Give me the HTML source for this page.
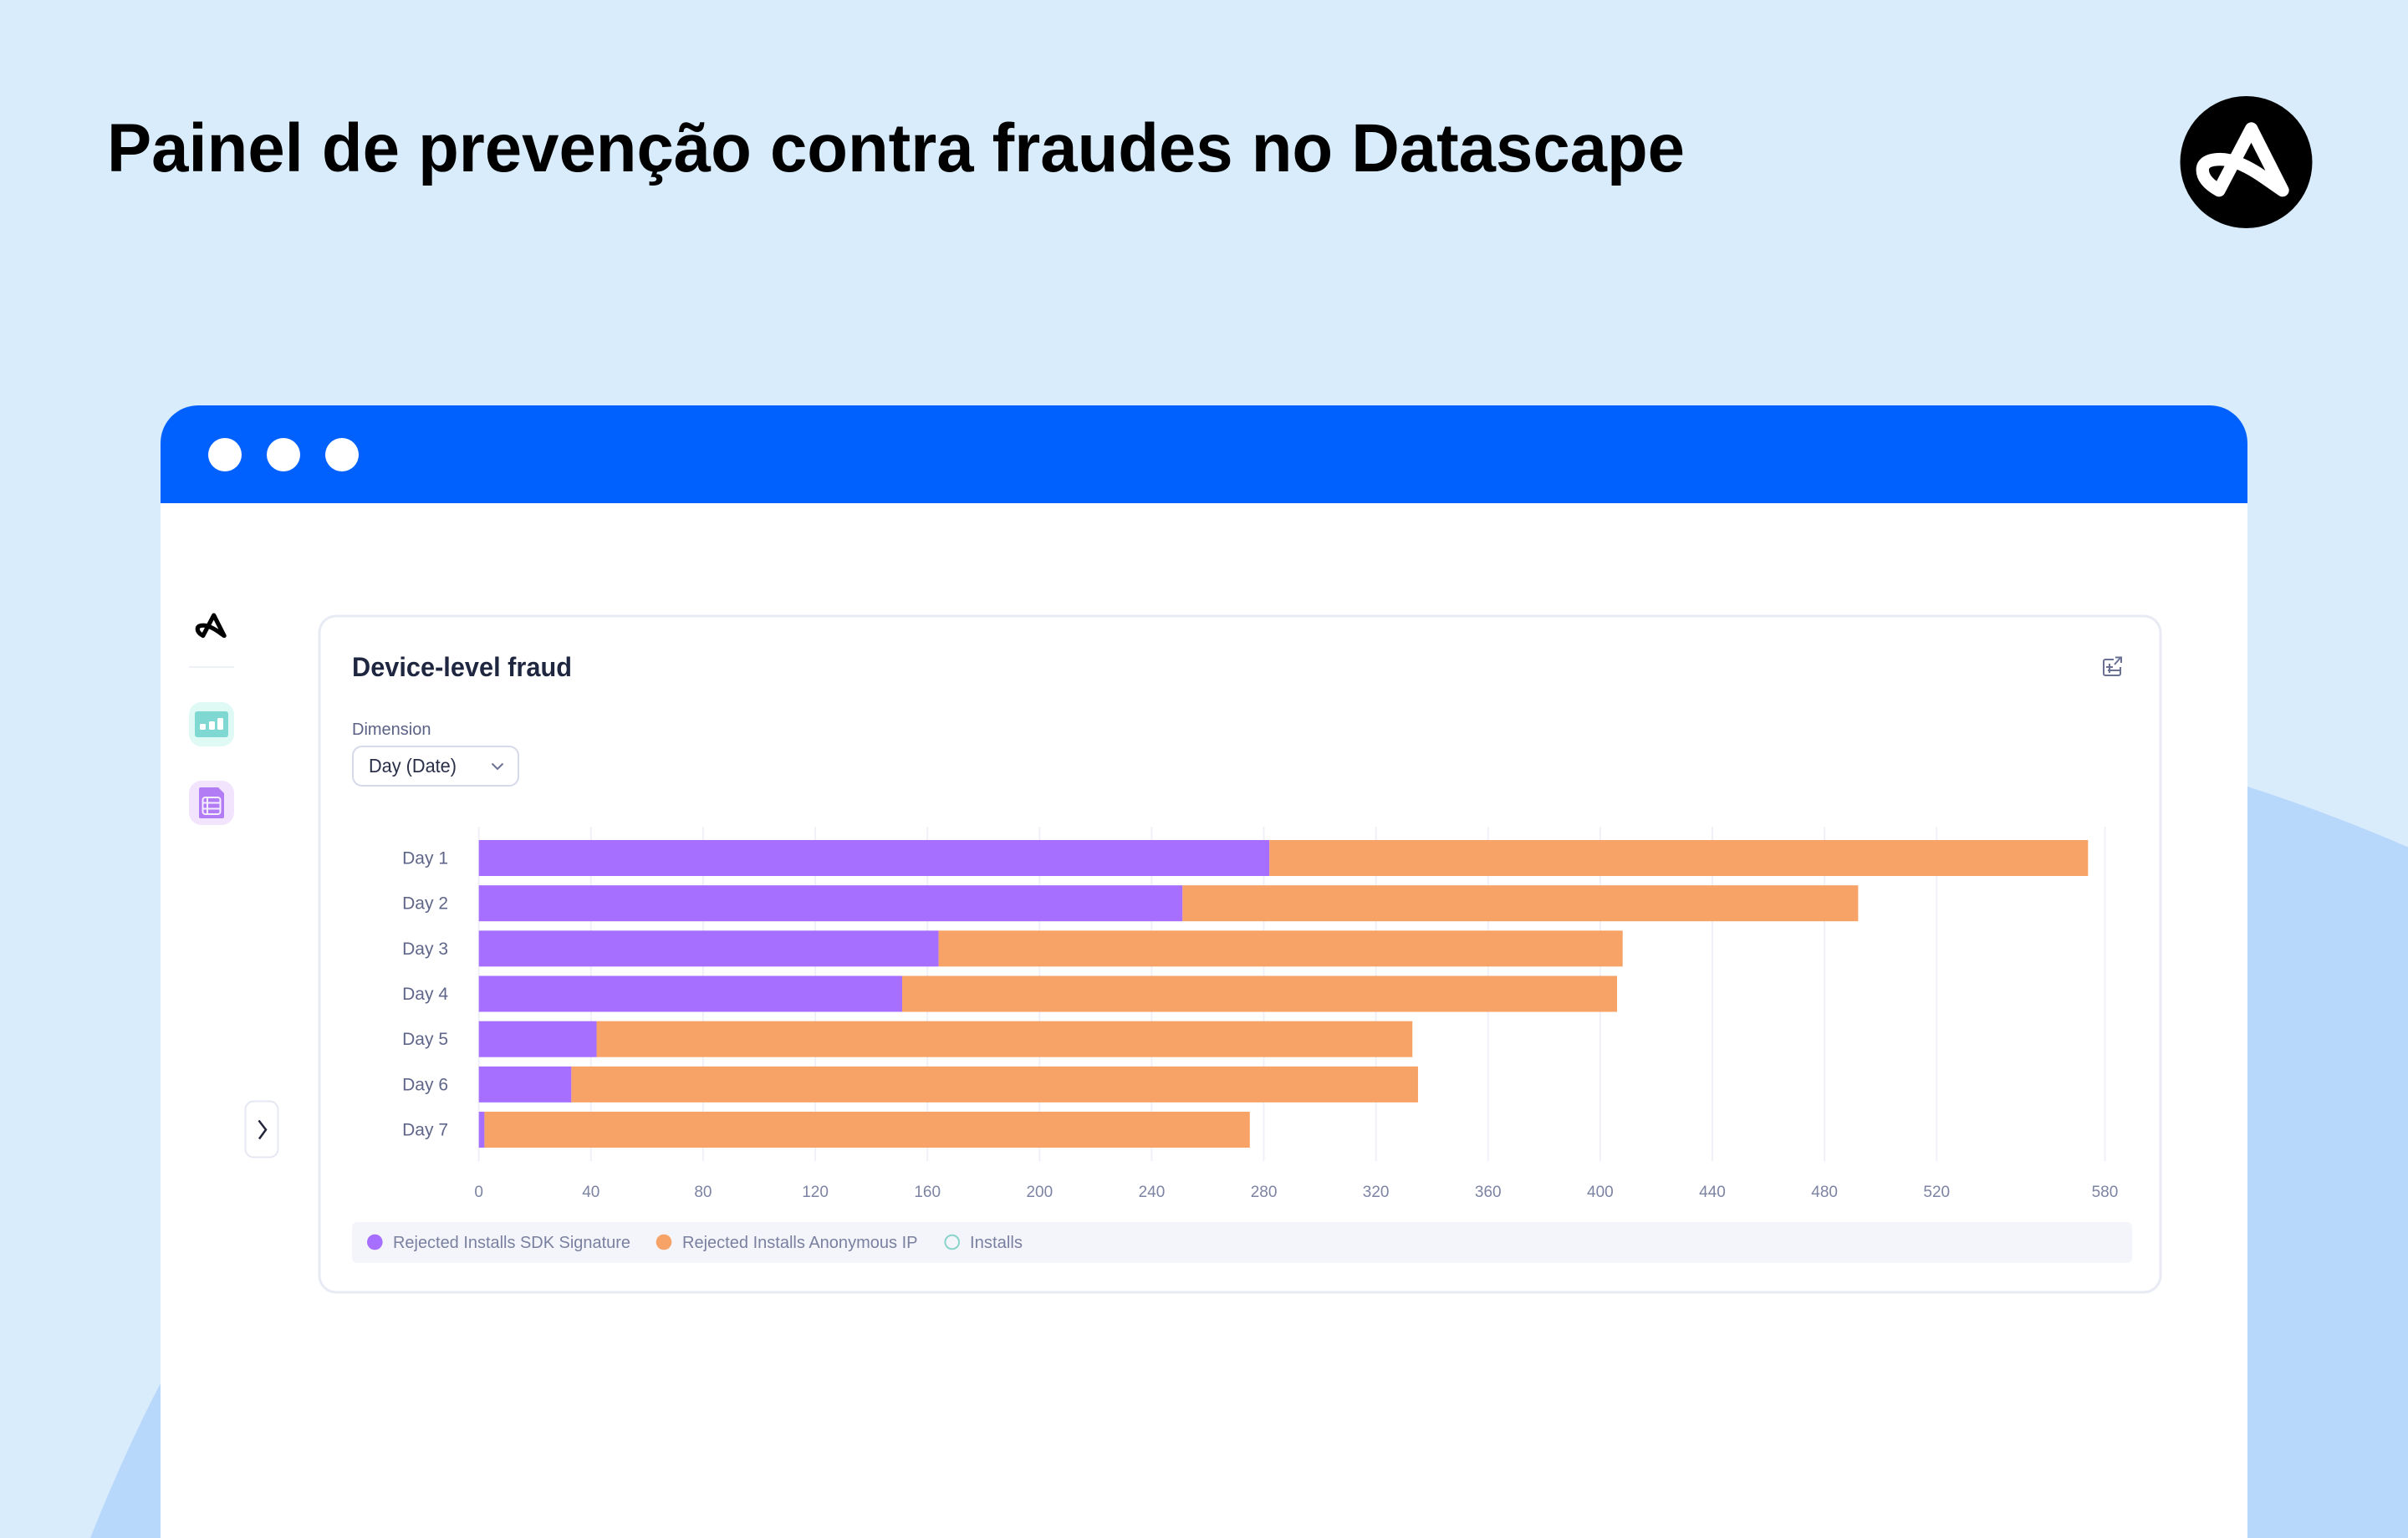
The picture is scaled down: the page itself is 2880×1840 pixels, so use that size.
<!DOCTYPE html>
<html lang="pt">
<head>
<meta charset="utf-8">
<title>Painel de prevenção contra fraudes no Datascape</title>
<style>
html,body{margin:0;padding:0;width:2880px;height:1840px;overflow:hidden;background:#d9ecfb}
svg{display:block}
text{font-family:"Liberation Sans",sans-serif}
</style>
</head>
<body>
<svg id="root" xmlns="http://www.w3.org/2000/svg" width="2880" height="1840" viewBox="0 0 2880 1840">
  <rect width="2880" height="1840" fill="#d9ecfb"/>
  <path d="M108 1840 Q150 1735 192 1655 L192 800 L2688 800 L2688 941 Q2784 972 2880 1013.5 L2880 1840 Z" fill="#b7d7fb"/>

  <text x="128" y="205" font-size="82" font-weight="700" fill="#000" textLength="1887" lengthAdjust="spacingAndGlyphs">Painel de prevenção contra fraudes no Datascape</text>

  <g>
    <circle cx="2686.5" cy="194" r="79" fill="#000"/>
    <g transform="translate(2500 60) scale(0.33333)">
      <path d="M690 503 L578 282 L462 503 C430 485 400 460 403 425 C408 385 480 385 530 405 C590 428 640 470 690 503 Z" fill="none" stroke="#fff" stroke-width="46" stroke-linejoin="round"/>
    </g>
  </g>

  <g>
    <path d="M192 1840 V530 a45 45 0 0 1 45 -45 H2643 a45 45 0 0 1 45 45 V1840 Z" fill="#fff"/>
    <path d="M192 602 V530 a45 45 0 0 1 45 -45 H2643 a45 45 0 0 1 45 45 V602 Z" fill="#0061fe"/>
    <circle cx="269" cy="544" r="20" fill="#fff"/>
    <circle cx="339" cy="544" r="20" fill="#fff"/>
    <circle cx="409" cy="544" r="20" fill="#fff"/>
  </g>

  <g>
    <g transform="translate(191.5 704.7) scale(0.1111)">
      <path d="M690 503 L578 282 L462 503 C430 485 400 460 403 425 C408 385 480 385 530 405 C590 428 640 470 690 503 Z" fill="none" stroke="#000" stroke-width="46" stroke-linejoin="round"/>
    </g>
    <rect x="226" y="797" width="54" height="2" fill="#eef0f7"/>
    <g>
      <rect x="226" y="840" width="54" height="53" rx="15" fill="#dffaf4"/>
      <rect x="233" y="851" width="40" height="31" rx="3" fill="#7fd8d1"/>
      <rect x="239" y="866" width="7" height="7" rx="1.5" fill="#fff"/>
      <rect x="250" y="863" width="7" height="10" rx="1.5" fill="#fff"/>
      <rect x="260" y="859" width="7" height="14" rx="1.5" fill="#fff"/>
    </g>
    <g>
      <rect x="226" y="934" width="54" height="53" rx="15" fill="#f1e4fc"/>
      <path d="M240 942 H261 L268 949 V977 a2 2 0 0 1 -2 2 H240 a2 2 0 0 1 -2 -2 V944 a2 2 0 0 1 2 -2 Z" fill="#b27cf5"/>
      <rect x="242.500" y="954" width="21" height="20" rx="3" fill="none" stroke="#f5ecfe" stroke-width="2"/>
      <path d="M243 960.500 H263 M243 967.500 H263 M248 954 V974" stroke="#f5ecfe" stroke-width="2" fill="none"/>
    </g>
    <g>
      <rect x="293.500" y="1317.500" width="39" height="67" rx="10" fill="#fff" stroke="#e5e7f2" stroke-width="2"/>
      <path d="M309.500 1340.500 L318 1351.500 L310 1362.500" fill="none" stroke="#23263a" stroke-width="2.500"/>
    </g>
  </g>

  <g>
    <rect x="382" y="737" width="2202" height="809" rx="20" fill="#fff" stroke="#e8eaf4" stroke-width="3"/>
    <text x="421" y="809" font-size="32" font-weight="700" fill="#1f2740" textLength="263" lengthAdjust="spacingAndGlyphs">Device-level fraud</text>
    <g fill="none" stroke="#6b7194" stroke-width="2">
      <path d="M2528 789 H2518 a2 2 0 0 0 -2 2 V806 a2 2 0 0 0 2 2 H2534 a2 2 0 0 0 2 -2 V798"/>
      <path d="M2523 794 V805 M2519 798 H2527 M2521 802 H2535"/>
      <path d="M2529 795 L2536 787 M2530 786.500 H2537 V793"/>
    </g>
    <text x="421" y="879" font-size="20" fill="#5b6285">Dimension</text>
    <g>
      <rect x="422" y="893" width="198" height="47" rx="11" fill="#fff" stroke="#d6d9ea" stroke-width="2"/>
      <text x="441" y="924" font-size="23" fill="#2a3048" textLength="105" lengthAdjust="spacingAndGlyphs">Day (Date)</text>
      <path d="M588.500 913.500 L595 920 L601.500 913.500" fill="none" stroke="#6b7194" stroke-width="2"/>
    </g>
    <g id="grid"></g>
    <g id="bars"></g>
    <g id="dayLabels"></g>
    <g id="tickLabels"></g>
    <g>
      <rect x="421" y="1462" width="2129" height="49" rx="6" fill="#f4f5fa"/>
      <g>
        <circle cx="448.300" cy="1486" r="9.300" fill="#a66fff"/>
        <text x="470" y="1493" font-size="20" fill="#7a80a0" textLength="284" lengthAdjust="spacingAndGlyphs">Rejected Installs SDK Signature</text>
      </g>
      <g>
        <circle cx="794" cy="1486" r="9.300" fill="#f7a267"/>
        <text x="816" y="1493" font-size="20" fill="#7a80a0" textLength="281.500" lengthAdjust="spacingAndGlyphs">Rejected Installs Anonymous IP</text>
      </g>
      <g>
        <circle cx="1138.700" cy="1486" r="8.300" fill="none" stroke="#8ad3cb" stroke-width="2"/>
        <text x="1160" y="1493" font-size="20" fill="#7a80a0" textLength="63" lengthAdjust="spacingAndGlyphs">Installs</text>
      </g>
    </g>
  </g>
</svg>
<script>
const categories = ["Day 1", "Day 2", "Day 3", "Day 4", "Day 5", "Day 6", "Day 7"];
const rejectedSdkSignature = [282, 251, 164, 151, 42, 33, 2];
const rejectedAnonymousIp = [292, 241, 244, 255, 291, 302, 273];
const tickValues = [0, 40, 80, 120, 160, 200, 240, 280, 320, 360, 400, 440, 480, 520, 580];

const SVG_NS = "http://www.w3.org/2000/svg";
function xScale(v) { return 572.7 + v * 3.353; }
function bandTop(i) { return 1005 + i * 54.17; }
const bandHeight = 43;
const gridTop = 989;
const gridBottom = 1389;

function make(tag, attrs) {
  const el = document.createElementNS(SVG_NS, tag);
  for (const k in attrs) { el.setAttribute(k, attrs[k]); }
  return el;
}

const gridGroup = document.getElementById("grid");
const tickGroup = document.getElementById("tickLabels");
tickValues.forEach(function (t) {
  const line = make("line", { x1: xScale(t), x2: xScale(t), y1: gridTop, y2: gridBottom, stroke: "#f0f1f8", "stroke-width": 2 });
  
  
  gridGroup.appendChild(line);
  const label = make("text", { x: xScale(t), y: 1432, "text-anchor": "middle", "font-size": 19, fill: "#7d83a3" });
  label.textContent = t;
  
  
  tickGroup.appendChild(label);
});

const barGroup = document.getElementById("bars");
const dayGroup = document.getElementById("dayLabels");
categories.forEach(function (c, i) {
  const sdk = rejectedSdkSignature[i];
  const anon = rejectedAnonymousIp[i];
  const sdkBar = make("rect", { x: xScale(0), y: bandTop(i), width: xScale(sdk) - xScale(0), height: bandHeight, fill: "#a66fff" });
  
  
  barGroup.appendChild(sdkBar);
  const anonBar = make("rect", { x: xScale(sdk), y: bandTop(i), width: xScale(sdk + anon) - xScale(sdk), height: bandHeight, fill: "#f7a267" });
  
  
  barGroup.appendChild(anonBar);
  const label = make("text", { x: 536, y: bandTop(i) + bandHeight / 2 + 7, "text-anchor": "end", "font-size": 21, fill: "#5f6689" });
  label.textContent = c;
  
  
  dayGroup.appendChild(label);
});
</script>
</body>
</html>
